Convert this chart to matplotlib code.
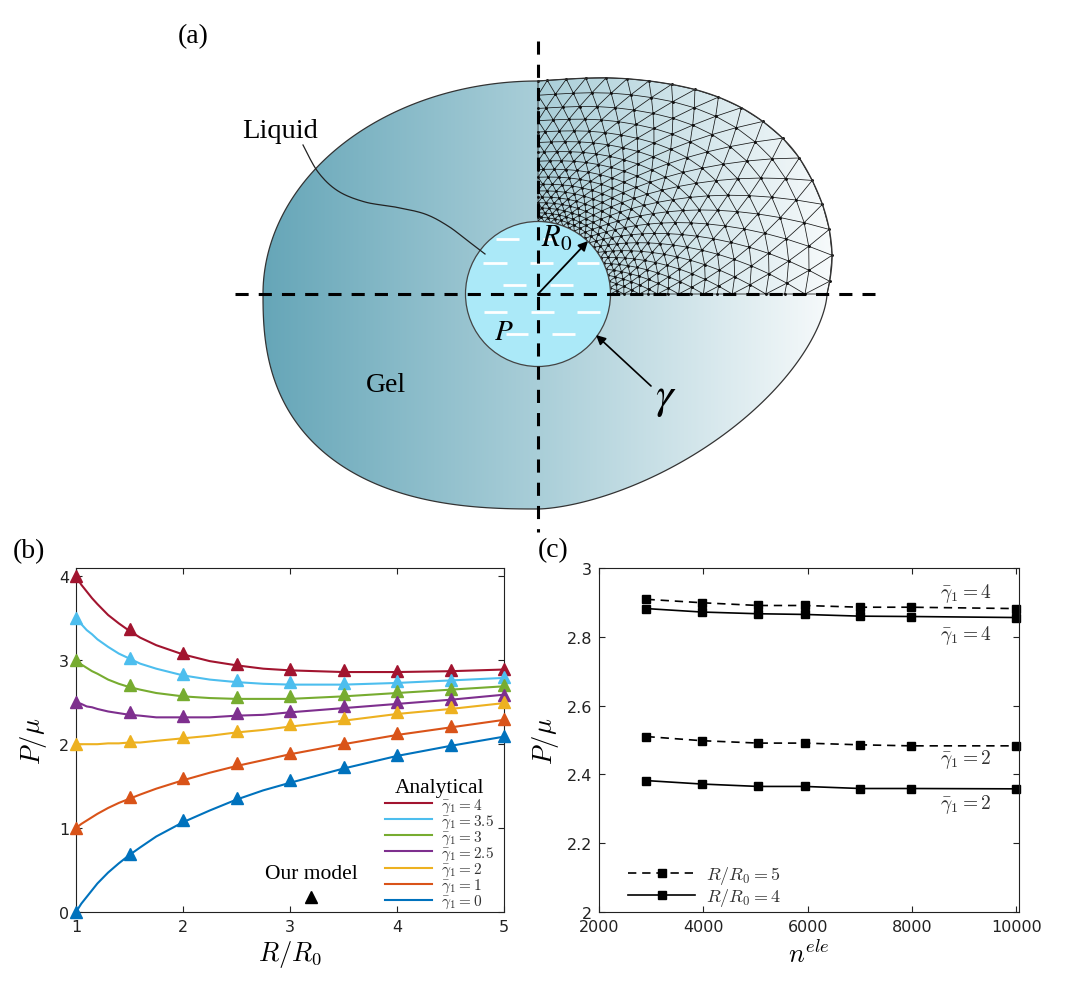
import numpy as np
import matplotlib
matplotlib.use("Agg")
import matplotlib.pyplot as plt
import matplotlib.tri as mtri
from matplotlib.colors import LinearSegmentedColormap
from matplotlib.patches import Polygon, Circle
from matplotlib.lines import Line2D

W, H = 1080, 987

# ---------------- panel (b) data ----------------
r_model = [1.0, 1.5, 2.0, 2.5, 3.0, 3.5, 4.0, 4.5, 5.0]
r_line = [1.0, 1.05, 1.1, 1.15, 1.2, 1.3, 1.4, 1.5, 1.6, 1.75, 2.0, 2.25, 2.5, 2.75,
          3.0, 3.5, 4.0, 4.5, 5.0]

ana_g4 = [4.00, 3.90, 3.82, 3.74, 3.67, 3.54, 3.44, 3.35, 3.27, 3.18, 3.07, 2.99, 2.94, 2.90,
          2.88, 2.86, 2.86, 2.87, 2.89]
ana_g35 = [3.50, 3.43, 3.36, 3.31, 3.25, 3.16, 3.08, 3.02, 2.96, 2.90, 2.82, 2.77, 2.74, 2.72,
           2.71, 2.71, 2.73, 2.76, 2.79]
ana_g3 = [3.00, 2.95, 2.91, 2.87, 2.84, 2.77, 2.72, 2.68, 2.65, 2.61, 2.57, 2.55, 2.54, 2.54,
          2.54, 2.57, 2.61, 2.65, 2.69]
ana_g25 = [2.50, 2.48, 2.45, 2.44, 2.42, 2.39, 2.37, 2.35, 2.34, 2.32, 2.32, 2.32, 2.34, 2.35,
           2.38, 2.43, 2.48, 2.53, 2.59]
ana_g2 = [2.00, 2.00, 2.00, 2.00, 2.00, 2.01, 2.01, 2.02, 2.02, 2.04, 2.07, 2.10, 2.14, 2.17,
          2.21, 2.28, 2.36, 2.42, 2.49]
ana_g1 = [1.00, 1.05, 1.09, 1.13, 1.17, 1.24, 1.30, 1.35, 1.40, 1.47, 1.57, 1.66, 1.74, 1.81,
          1.88, 2.00, 2.11, 2.20, 2.29]
ana_g0 = [0.00, 0.10, 0.18, 0.26, 0.34, 0.47, 0.58, 0.68, 0.77, 0.90, 1.07, 1.21, 1.34, 1.45,
          1.54, 1.71, 1.86, 1.98, 2.09]

mod_g4 = [4.00, 3.37, 3.09, 2.96, 2.90, 2.88, 2.87, 2.88, 2.90]
mod_g35 = [3.50, 3.03, 2.84, 2.76, 2.74, 2.73, 2.75, 2.77, 2.80]
mod_g3 = [3.00, 2.71, 2.60, 2.56, 2.57, 2.60, 2.63, 2.66, 2.70]
mod_g25 = [2.50, 2.38, 2.34, 2.37, 2.40, 2.45, 2.50, 2.54, 2.59]
mod_g2 = [2.00, 2.04, 2.09, 2.16, 2.24, 2.31, 2.38, 2.44, 2.50]
mod_g1 = [1.00, 1.37, 1.60, 1.77, 1.90, 2.02, 2.13, 2.22, 2.30]
mod_g0 = [0.00, 0.69, 1.10, 1.36, 1.57, 1.73, 1.87, 1.99, 2.10]

gamma_labels = ["4", "3.5", "3", "2.5", "2", "1", "0"]
gamma_colors = ["#A2142F", "#4DBEEE", "#77AC30", "#7E2F8E", "#EDB120", "#D95319", "#0072BD"]

# ---------------- panel (c) data ----------------
n_ele = [2910, 3970, 5050, 5940, 7010, 7980, 10000]
p_r5_g4 = [2.909, 2.899, 2.891, 2.891, 2.886, 2.886, 2.882]
p_r4_g4 = [2.882, 2.872, 2.867, 2.865, 2.860, 2.859, 2.856]
p_r5_g2 = [2.510, 2.498, 2.491, 2.491, 2.486, 2.483, 2.483]
p_r4_g2 = [2.382, 2.372, 2.365, 2.365, 2.359, 2.359, 2.358]
c_note_labels = [r"$\bar{\gamma}_1 = 4$", r"$\bar{\gamma}_1 = 4$",
                 r"$\bar{\gamma}_1 = 2$", r"$\bar{\gamma}_1 = 2$"]
c_note_y = [2.930, 2.806, 2.446, 2.314]

# ---------------- panel (a) geometry (pixels, relative to centre, y up) ----------------
CX, CY = 538, 692
# upper right boundary, traced (first/last entries only steer the end tangents)
ur_dx = [277, 289, 294, 285, 262, 232, 192, 142, 75, 0, -50]
ur_dy = [-32, 0, 42, 88, 135, 167, 192, 208, 216, 213, 208]
# the other three quarters as superellipse arcs: (half width, half height, exponent)
ul_shape = (275, 213, 2.0)
ll_shape = (275, 215, 2.5)
lr_shape = (289, 215, 1.6)
leader_dx = [-235, -220, -200, -173, -143, -113, -90, -70, -53]
leader_dy = [149, 122, 103, 92, 87, 80, 68, 53, 40]
R_IN = 72.5
dash_y = [55, 55, 31, 31, 31, 9, 9, -18, -18, -18, -40, -40]
dash_x0 = [-42, 5, -55, -8, 39, -35, 12, -54, -7, 39, -32, 14]
dash_x1 = [-19, 17, -31, 15, 61, -12, 35, -31, 16, 62, -10, 37]


def catmull(p0, p1, p2, p3, t):
    return 0.5 * (2 * p1 + (p2 - p0) * t + (2 * p0 - 5 * p1 + 4 * p2 - p3) * t ** 2
                  + (3 * p1 - p0 - 3 * p2 + p3) * t ** 3)


def spline_between(px, py, n=16, pad_ends=False):
    p = np.column_stack([px, py]).astype(float)
    if pad_ends:
        p = np.vstack([p[:1], p, p[-1:]])
    t = np.linspace(0, 1, n, endpoint=False)[:, None, None]
    seg = catmull(p[:-3], p[1:-2], p[2:-1], p[3:], t)
    return np.vstack([seg.transpose(1, 0, 2).reshape(-1, 2), p[-2:-1]])


def quarter(shape, sx, sy, reverse=False, n=90):
    a, b, e = shape
    t = np.linspace(0, np.pi / 2, n)
    if reverse:
        t = t[::-1]
    return np.column_stack([sx * a * np.cos(t) ** (2 / e), sy * b * np.sin(t) ** (2 / e)])


plt.rcParams["font.family"] = ["DejaVu Sans"]
plt.rcParams["mathtext.fontset"] = "cm"

fig = plt.figure(figsize=(W / 100, H / 100), dpi=100)

# ================= panel (a) =================
axa = fig.add_axes([0, 0, 1, 1], zorder=0)
axa.set_xlim(0, W)
axa.set_ylim(0, H)
axa.axis("off")

outline = np.vstack([
    spline_between(ur_dx, ur_dy),
    quarter(ul_shape, -1, 1, reverse=True),
    quarter(ll_shape, -1, -1),
    quarter(lr_shape, 1, -1, reverse=True),
])
shape = Polygon(outline + [CX, CY], closed=True, facecolor="none",
                edgecolor="#333333", lw=0.9, zorder=3)
axa.add_patch(shape)

cmap = LinearSegmentedColormap.from_list(
    "gel", [(0, "#66a6b8"), (0.48, "#a9ced8"), (1, "#f7fafb")])
grad = np.linspace(0, 1, 256)[None, :]
ext = (CX + outline[:, 0].min(), CX + outline[:, 0].max(),
       CY + outline[:, 1].min(), CY + outline[:, 1].max())
im = axa.imshow(grad, extent=ext, cmap=cmap, aspect="auto", zorder=1,
                interpolation="bilinear")
im.set_clip_path(shape)

# mesh in the upper right quadrant
ang = np.arctan2(outline[:, 1], outline[:, 0])
rad = np.hypot(outline[:, 0], outline[:, 1])
order = np.argsort(ang)
n_t, n_r, q = 18, 17, 1.08
steps = q ** np.arange(n_r)
s_ring = np.concatenate([[0], np.cumsum(steps) / steps.sum()])
mx, my = [], []
for j, s in enumerate(s_ring):
    if j % 2 == 0:
        th = np.linspace(0, np.pi / 2, n_t + 1)
    else:
        th = np.concatenate([[0], (np.arange(n_t) + 0.5) * np.pi / 2 / n_t, [np.pi / 2]])
    r_out = np.interp(th, ang[order], rad[order])
    r = R_IN + s * (r_out - R_IN)
    mx.extend(CX + r * np.cos(th))
    my.extend(CY + r * np.sin(th))
mx, my = np.array(mx), np.array(my)
tri = mtri.Triangulation(mx, my)
tv = tri.triangles
cxs = mx[tv].mean(axis=1) - CX
cys = my[tv].mean(axis=1) - CY
area = 0.5 * np.abs((mx[tv[:, 1]] - mx[tv[:, 0]]) * (my[tv[:, 2]] - my[tv[:, 0]])
                    - (mx[tv[:, 2]] - mx[tv[:, 0]]) * (my[tv[:, 1]] - my[tv[:, 0]]))
tri.set_mask((np.hypot(cxs, cys) < R_IN) | (area < 1e-3))
axa.triplot(tri, color="#151515", lw=0.55, zorder=2)
axa.plot(mx, my, ls="none", marker="o", ms=1.1, color="#111111", zorder=2)

axa.add_patch(Circle((CX, CY), R_IN, facecolor="#abe9f8", edgecolor="#444444",
                     lw=0.9, zorder=4))
axa.hlines(CY + np.array(dash_y), CX + np.array(dash_x0), CX + np.array(dash_x1),
           colors="white", lw=2.0, zorder=5)

lead = spline_between(leader_dx, leader_dy, pad_ends=True)
axa.plot(CX + lead[:, 0], CY + lead[:, 1], color="#222222", lw=0.9, zorder=6)

axa.plot([CX - 303, CX + 337], [CY, CY], color="black", lw=2.2,
         dashes=(4.3, 3.3), zorder=7)
axa.plot([CX, CX], [CY + 253, CY - 238], color="black", lw=2.2,
         dashes=(4.3, 3.3), zorder=7)

axa.annotate("", xy=(CX + 50, CY + 53), xytext=(CX, CY),
             arrowprops=dict(arrowstyle="-|>", color="black", lw=1.3,
                             mutation_scale=14, shrinkA=0, shrinkB=0), zorder=8)
axa.annotate("", xy=(CX + 58, CY - 41), xytext=(CX + 113, CY - 92),
             arrowprops=dict(arrowstyle="-|>", color="black", lw=1.2,
                             mutation_scale=14, shrinkA=0, shrinkB=0), zorder=8)

serif = ["Liberation Serif", "DejaVu Serif"]
axa.text(CX - 296, CY + 157, "Liquid", family=serif, fontsize=20.5,
         ha="left", va="baseline", zorder=9)
axa.text(CX - 172, CY - 97, "Gel", family=serif, fontsize=20,
         ha="left", va="baseline", zorder=9)
axa.text(CX - 44, CY - 45, "$P$", math_fontfamily="stix", fontsize=21,
         ha="left", va="baseline", zorder=9)
axa.text(CX + 3, CY + 48, "$R_0$", math_fontfamily="stix", fontsize=22,
         ha="left", va="baseline", zorder=9)
axa.text(CX + 128, CY - 103, r"$\gamma$", math_fontfamily="stix", fontsize=32,
         ha="center", va="center", zorder=9)

fig.text(178 / W, 1 - 43 / H, "(a)", family=serif, fontsize=20, va="baseline")
fig.text(13 / W, 1 - 558 / H, "(b)", family=serif, fontsize=20, va="baseline")
fig.text(538 / W, 1 - 557 / H, "(c)", family=serif, fontsize=20, va="baseline")


def style_axes(ax):
    ax.tick_params(direction="in", top=True, right=True, length=4, width=0.8,
                   labelsize=11.5, colors="#222222", pad=5)
    for sp in ax.spines.values():
        sp.set_linewidth(0.8)
        sp.set_color("#222222")


# ================= panel (b) =================
axb = fig.add_axes([76 / W, 1 - 913 / H, 428 / W, 344 / H], zorder=2)
ana_sets = [ana_g4, ana_g35, ana_g3, ana_g25, ana_g2, ana_g1, ana_g0]
mod_sets = [mod_g4, mod_g35, mod_g3, mod_g25, mod_g2, mod_g1, mod_g0]
for ana, mod, col, lab in zip(ana_sets, mod_sets, gamma_colors, gamma_labels):
    axb.plot(r_line, ana, color=col, lw=1.5, label=rf"$\bar{{\gamma}}_1 = {lab}$")
    axb.plot(r_model, mod, ls="none", marker="^", ms=8, color=col,
             clip_on=False, zorder=4)
axb.set_xlim(1, 5)
axb.set_ylim(0, 4.1)
axb.set_xticks([1, 2, 3, 4, 5])
axb.set_yticks([0, 1, 2, 3, 4])
style_axes(axb)
axb.set_xlabel(r"$R/R_0$", fontsize=19, labelpad=3)
axb.set_ylabel(r"$P/\mu$", fontsize=19, labelpad=7)

leg1 = axb.legend(loc="lower right", bbox_to_anchor=(0.98, 0.0), frameon=False,
                  fontsize=11, title="Analytical",
                  title_fontproperties={"family": serif, "size": 15.5},
                  handlelength=3.1, handletextpad=0.6, labelspacing=-0.08,
                  borderpad=0.1, borderaxespad=0)
for t in leg1.get_texts():
    t.set_color("#333333")
axb.add_artist(leg1)
tri_handle = Line2D([], [], ls="none", marker="^", ms=8, color="black")
axb.legend([tri_handle], [""], loc="lower center", bbox_to_anchor=(0.549, 0.022),
           frameon=False, title="Our model",
           title_fontproperties={"family": serif, "size": 15.5},
           handlelength=1.0, handletextpad=0, borderpad=0, borderaxespad=0)

# ================= panel (c) =================
axc = fig.add_axes([599 / W, 1 - 913 / H, 420 / W, 344 / H], zorder=2)
axc.plot(n_ele, p_r5_g4, color="black", lw=1.2, dashes=(5, 3.5), marker="s", ms=6,
         clip_on=False, label=r"$R/R_0 = 5$")
axc.plot(n_ele, p_r4_g4, color="black", lw=1.2, marker="s", ms=6,
         clip_on=False, label=r"$R/R_0 = 4$")
axc.plot(n_ele, p_r5_g2, color="black", lw=1.2, dashes=(5, 3.5), marker="s", ms=6,
         clip_on=False)
axc.plot(n_ele, p_r4_g2, color="black", lw=1.2, marker="s", ms=6, clip_on=False)
for lab, yv in zip(c_note_labels, c_note_y):
    axc.text(8530, yv, lab, fontsize=14, color="#333333", ha="left", va="center")
axc.set_xlim(2000, 10050)
axc.set_ylim(2, 3)
axc.set_xticks([2000, 4000, 6000, 8000, 10000])
axc.set_yticks([2, 2.2, 2.4, 2.6, 2.8, 3])
axc.set_yticklabels(["2", "2.2", "2.4", "2.6", "2.8", "3"])
style_axes(axc)
axc.set_xlabel(r"$n^{ele}$", fontsize=19, labelpad=5)
axc.set_ylabel(r"$P/\mu$", fontsize=19, labelpad=4)
leg_c = axc.legend(loc="lower left", bbox_to_anchor=(0.065, 0.005), frameon=False,
                   fontsize=13, handlelength=3.7, handletextpad=0.6,
                   labelspacing=0.0, numpoints=1, borderpad=0.1, borderaxespad=0)
for t in leg_c.get_texts():
    t.set_color("#333333")

fig.savefig("out.png", dpi=100)
